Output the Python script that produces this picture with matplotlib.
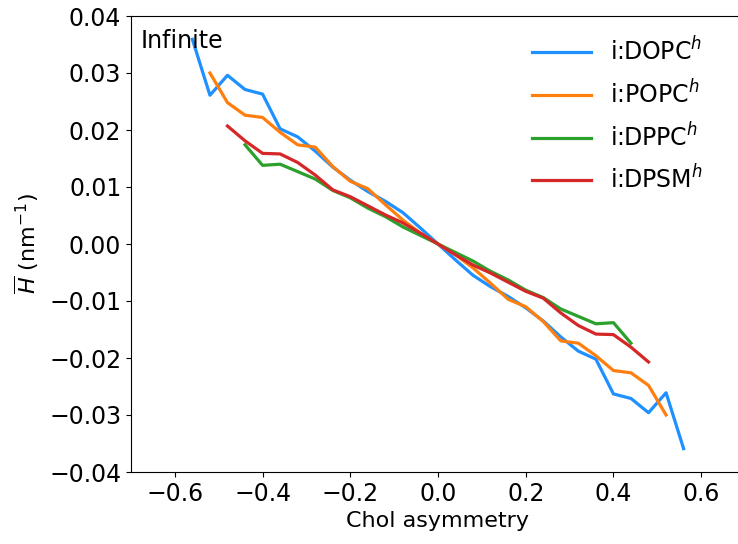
import numpy as np
import matplotlib
matplotlib.use('Agg')
import matplotlib.pyplot as plt

# Chol asymmetry grid (step 0.04) and mean curvature per lipid
x_dopc = [-0.56, -0.52, -0.48, -0.44, -0.40, -0.36, -0.32, -0.28, -0.24, -0.20,
          -0.16, -0.12, -0.08, -0.04, 0.00, 0.04, 0.08, 0.12, 0.16, 0.20,
          0.24, 0.28, 0.32, 0.36, 0.40, 0.44, 0.48, 0.52, 0.56]
h_dopc = [0.0359, 0.0261, 0.0296, 0.0271, 0.0263, 0.0202, 0.0188, 0.0163, 0.0135, 0.0112,
          0.0092, 0.0075, 0.0055, 0.0028, 0.0, -0.0028, -0.0055, -0.0075, -0.0092, -0.0112,
          -0.0135, -0.0163, -0.0188, -0.0202, -0.0263, -0.0271, -0.0296, -0.0261, -0.0359]

x_popc = [-0.52, -0.48, -0.44, -0.40, -0.36, -0.32, -0.28, -0.24, -0.20, -0.16,
          -0.12, -0.08, -0.04, 0.00, 0.04, 0.08, 0.12, 0.16, 0.20, 0.24,
          0.28, 0.32, 0.36, 0.40, 0.44, 0.48, 0.52]
h_popc = [0.0300, 0.0248, 0.0226, 0.0222, 0.0196, 0.0174, 0.0170, 0.0136, 0.0110, 0.0097,
          0.0069, 0.0042, 0.0019, 0.0, -0.0019, -0.0042, -0.0069, -0.0097, -0.0110, -0.0136,
          -0.0170, -0.0174, -0.0196, -0.0222, -0.0226, -0.0248, -0.0300]

x_dppc = [-0.44, -0.40, -0.36, -0.32, -0.28, -0.24, -0.20, -0.16, -0.12, -0.08,
          -0.04, 0.00, 0.04, 0.08, 0.12, 0.16, 0.20, 0.24, 0.28, 0.32,
          0.36, 0.40, 0.44]
h_dppc = [0.0174, 0.0138, 0.0140, 0.0127, 0.0114, 0.0094, 0.0081, 0.0063, 0.0048, 0.0030,
          0.0015, 0.0, -0.0015, -0.0030, -0.0048, -0.0063, -0.0081, -0.0094, -0.0114, -0.0127,
          -0.0140, -0.0138, -0.0174]

x_dpsm = [-0.48, -0.44, -0.40, -0.36, -0.32, -0.28, -0.24, -0.20, -0.16, -0.12,
          -0.08, -0.04, 0.00, 0.04, 0.08, 0.12, 0.16, 0.20, 0.24, 0.28,
          0.32, 0.36, 0.40, 0.44, 0.48]
h_dpsm = [0.0207, 0.0181, 0.0159, 0.0158, 0.0143, 0.0121, 0.0095, 0.0083, 0.0067, 0.0051,
          0.0037, 0.0019, 0.0, -0.0019, -0.0037, -0.0051, -0.0067, -0.0083, -0.0095, -0.0121,
          -0.0143, -0.0158, -0.0159, -0.0181, -0.0207]

plt.rcParams['font.size'] = 17

fig = plt.figure(figsize=(7.38, 5.44), dpi=100)
# right spine sits just past the canvas edge, like the reference crop
ax = fig.add_axes([131 / 738, (544 - 472) / 544, (745 - 131) / 738, (472 - 16) / 544])

lw = 2.3
ax.plot(x_dopc, h_dopc, color='#1e90ff', lw=lw, label='i:DOPC$^h$')
ax.plot(x_popc, h_popc, color='#ff7f0e', lw=lw, label='i:POPC$^h$')
ax.plot(x_dppc, h_dppc, color='#2ca02c', lw=lw, label='i:DPPC$^h$')
ax.plot(x_dpsm, h_dpsm, color='#d62728', lw=lw, label='i:DPSM$^h$')

ax.set_xlim(-0.7, 0.7)
ax.set_ylim(-0.04, 0.04)
ax.set_xticks([-0.6, -0.4, -0.2, 0.0, 0.2, 0.4, 0.6])
ax.set_xlabel('Chol asymmetry', fontsize=16)
ax.set_ylabel(r'$\overline{H}$ (nm$^{-1}$)', fontsize=16, labelpad=6)

ax.text(0.016, 0.972, 'Infinite', transform=ax.transAxes, ha='left', va='top', fontsize=17)
ax.legend(loc='upper right', frameon=False, handlelength=2.5, labelspacing=0.6,
          bbox_to_anchor=(0.965, 1.0))

fig.savefig('out.png', dpi=100)
